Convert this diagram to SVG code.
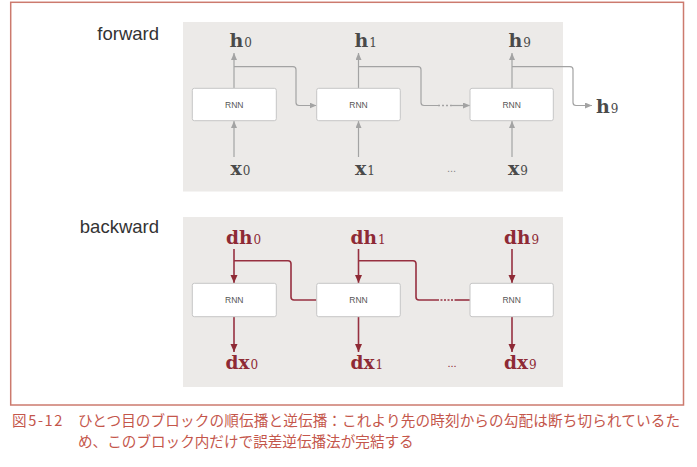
<svg xmlns="http://www.w3.org/2000/svg" width="697" height="467" viewBox="0 0 697 467">
<style>
.panel{fill:#ECEAE8}
.box{fill:#FFFFFF;stroke:#C6C6C6;stroke-width:1}
.rnn{font-family:"Liberation Sans",Arial,sans-serif;font-size:8.5px;fill:#555;text-anchor:middle}
.lab{font-family:"Liberation Sans",Arial,sans-serif;font-size:18.5px;fill:#333;text-anchor:end}
.fm{font-family:"DejaVu Serif",serif;font-weight:bold;font-size:19px;fill:#4A4A4A}
.bm{font-family:"DejaVu Serif",serif;font-weight:bold;font-size:18.5px;fill:#8E2A35}
.sub{font-weight:normal;font-size:12px}
.fl{fill:none;stroke:#A3A3A3;stroke-width:1.2}
.bl{fill:none;stroke:#973040;stroke-width:1.6}
.dotf{fill:none;stroke:#A3A3A3;stroke-width:1.4;stroke-dasharray:2 2}
.dotb{fill:none;stroke:#973040;stroke-width:1.4;stroke-dasharray:2 1.5}
.cap{font-family:"Noto Sans CJK JP",sans-serif;font-size:14.6px;fill:#C4564B}
.ell{font-family:"Liberation Sans",Arial,sans-serif;font-size:11px;text-anchor:middle}
</style>
<defs>
<marker id="ag" markerUnits="userSpaceOnUse" markerWidth="8" markerHeight="8" refX="7" refY="3" orient="auto"><path d="M0,0 L7,3 L0,6 z" fill="#A3A3A3"/></marker>
<marker id="ar" markerUnits="userSpaceOnUse" markerWidth="9" markerHeight="9" refX="8" refY="3.5" orient="auto"><path d="M0,0 L8,3.5 L0,7 z" fill="#8E2A35"/></marker>
</defs>
<rect x="10.7" y="2.3" width="672.8" height="402.7" fill="none" stroke="#CC7A6E" stroke-width="1.5"/>
<rect class="panel" x="183" y="22" width="380" height="169.5"/>
<rect class="panel" x="183" y="217" width="380" height="170"/>
<text class="lab" x="159" y="40">forward</text>
<text class="lab" x="159" y="233">backward</text>
<g id="connectors">
<line class="fl" x1="234" y1="88" x2="234" y2="53" marker-end="url(#ag)"/>
<line class="fl" x1="234" y1="157" x2="234" y2="121" marker-end="url(#ag)"/>
<path class="fl" d="M234,66.7 H293 Q296,66.7 296,69.7 V102.5 Q296,105.5 299,105.5 H316.5" marker-end="url(#ag)"/>
<line class="fl" x1="358.5" y1="88" x2="358.5" y2="53" marker-end="url(#ag)"/>
<line class="fl" x1="358.5" y1="157" x2="358.5" y2="121" marker-end="url(#ag)"/>
<path class="fl" d="M358.5,66.7 H418 Q421,66.7 421,69.7 V102.5 Q421,105.5 424,105.5 H438"/>
<line class="dotf" x1="438" y1="105.5" x2="452" y2="105.5"/>
<line class="fl" x1="452" y1="105.5" x2="470" y2="105.5" marker-end="url(#ag)"/>
<line class="fl" x1="512" y1="88" x2="512" y2="53" marker-end="url(#ag)"/>
<line class="fl" x1="512" y1="157" x2="512" y2="121" marker-end="url(#ag)"/>
<path class="fl" d="M512,66.7 H570 Q573,66.7 573,69.7 V102.5 Q573,105.5 576,105.5 H592" marker-end="url(#ag)"/>
<line class="bl" x1="234" y1="249" x2="234" y2="283" marker-end="url(#ar)"/>
<line class="bl" x1="234" y1="317" x2="234" y2="352" marker-end="url(#ar)"/>
<path class="bl" d="M234,260.7 H288 Q291,260.7 291,263.7 V297 Q291,300 294,300 H316.5"/>
<line class="bl" x1="358.5" y1="249" x2="358.5" y2="283" marker-end="url(#ar)"/>
<line class="bl" x1="358.5" y1="317" x2="358.5" y2="352" marker-end="url(#ar)"/>
<path class="bl" d="M358.5,260.7 H413 Q416,260.7 416,263.7 V297 Q416,300 419,300 H437"/>
<line class="dotb" x1="437" y1="300" x2="455" y2="300"/>
<line class="bl" x1="455" y1="300" x2="470" y2="300"/>
<line class="bl" x1="512" y1="249" x2="512" y2="283" marker-end="url(#ar)"/>
<line class="bl" x1="512" y1="317" x2="512" y2="352" marker-end="url(#ar)"/>
</g>
<g id="f-rnn0"><rect class="box" x="192.3" y="88.3" width="84" height="32.4" rx="2"/><text class="rnn" x="234.3" y="107.5">RNN</text></g>
<g id="f-rnn1"><rect class="box" x="316.7" y="88.3" width="83.6" height="32.4" rx="2"/><text class="rnn" x="358.5" y="107.5">RNN</text></g>
<g id="f-rnn9"><rect class="box" x="470" y="88.3" width="83.3" height="32.4" rx="2"/><text class="rnn" x="511.7" y="107.5">RNN</text></g>
<g id="b-rnn0"><rect class="box" x="192.3" y="283.3" width="84" height="33.4" rx="2"/><text class="rnn" x="234.3" y="303">RNN</text></g>
<g id="b-rnn1"><rect class="box" x="316.7" y="283.3" width="83.6" height="33.4" rx="2"/><text class="rnn" x="358.5" y="303">RNN</text></g>
<g id="b-rnn9"><rect class="box" x="470" y="283.3" width="83.3" height="33.4" rx="2"/><text class="rnn" x="511.7" y="303">RNN</text></g>
<g id="f-h0"><text class="fm" x="229.5" y="46.7">h<tspan class="sub" dx="1">0</tspan></text></g>
<g id="f-h1"><text class="fm" x="354.5" y="46.7">h<tspan class="sub" dx="1">1</tspan></text></g>
<g id="f-h9"><text class="fm" x="508.5" y="46.7">h<tspan class="sub" dx="1">9</tspan></text></g>
<g id="f-hout"><text class="fm" x="596" y="113">h<tspan class="sub" dx="1">9</tspan></text></g>
<g id="f-x0"><text class="fm" x="230.5" y="175">x<tspan class="sub" dx="1">0</tspan></text></g>
<g id="f-x1"><text class="fm" x="355" y="175">x<tspan class="sub" dx="1">1</tspan></text></g>
<g id="f-x9"><text class="fm" x="508" y="175">x<tspan class="sub" dx="1">9</tspan></text></g>
<text class="ell" x="451.5" y="172" fill="#888">...</text>
<g id="b-dh0"><text class="bm" x="226" y="244">dh<tspan class="sub" dx="1">0</tspan></text></g>
<g id="b-dh1"><text class="bm" x="350.5" y="244">dh<tspan class="sub" dx="1">1</tspan></text></g>
<g id="b-dh9"><text class="bm" x="504" y="244">dh<tspan class="sub" dx="1">9</tspan></text></g>
<g id="b-dx0"><text class="bm" x="225.5" y="369">dx<tspan class="sub" dx="1">0</tspan></text></g>
<g id="b-dx1"><text class="bm" x="350.5" y="369">dx<tspan class="sub" dx="1">1</tspan></text></g>
<g id="b-dx9"><text class="bm" x="504" y="369">dx<tspan class="sub" dx="1">9</tspan></text></g>
<text class="ell" x="452" y="367" fill="#8E2A35">...</text>
<text class="cap" x="12" y="426" letter-spacing="1.6">図5-12</text>
<text class="cap" x="78" y="426" textLength="602" lengthAdjust="spacing">ひとつ目のブロックの順伝播と逆伝播：これより先の時刻からの勾配は断ち切られているた</text>
<text class="cap" x="78" y="447">め、このブロック内だけで誤差逆伝播法が完結する</text>
</svg>
